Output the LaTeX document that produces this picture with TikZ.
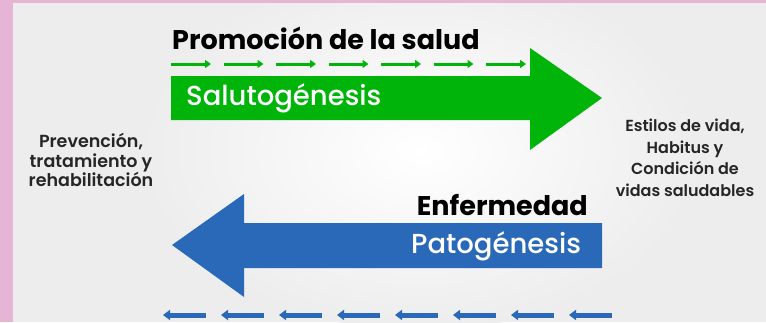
\documentclass[tikz,border=0pt]{standalone}
\usepackage{fontspec}
\setmainfont{Poppins}
\newfontfamily\popmed{Poppins Medium}
\newfontfamily\popsemi{Poppins SemiBold}
\usetikzlibrary{arrows.meta}
\definecolor{pinkbg}{HTML}{E6B4D4}
\definecolor{greybg}{HTML}{EDEDED}
\definecolor{arrgreen}{HTML}{00B40A}
\definecolor{arrblue}{HTML}{2A69B8}
\tikzset{
  sidetext/.style={align=center, font=\popsemi\fontsize{17.5}{19.5}\selectfont, text=black!85, inner sep=0pt},
  title/.style={font=\bfseries\fontsize{27}{30}\selectfont, text=black, inner sep=0pt},
  bodylabel/.style={font=\popmed\fontsize{27.5}{30}\selectfont, text=white, inner sep=0pt},
  gdash/.style={draw=arrgreen, line width=3pt, -{Triangle[length=6pt,width=8pt]}},
  bdash/.style={draw=arrblue, line width=5pt, -{Triangle[length=7pt,width=10pt]}},
}
\begin{document}
\begin{tikzpicture}[x=1pt,y=-1pt]
\useasboundingbox (0,0) rectangle (766,322);
% background
\fill[pinkbg] (0,0) rectangle (766,322);
\fill[greybg] (13,3) rectangle (766,322);
\begin{scope}
\clip (13,3) rectangle (766,322);
\shade[inner color=white, outer color=greybg] (420,150) ellipse (280 and 180);
\end{scope}
% green arrow
\fill[arrgreen] (171,76) -- (530,76) -- (530,48) -- (602,98) -- (530,150) -- (530,120) -- (171,120) -- cycle;
% blue arrow
\fill[arrblue] (602,223) -- (244,223) -- (244,194) -- (172,245) -- (244,297) -- (244,268) -- (602,268) -- cycle;
% green dashed arrows
\foreach \i in {0,...,6} {
  \coordinate (gs\i) at (171+52.5*\i,64);
  \coordinate (ge\i) at (211+52.5*\i,64);
  \draw[gdash] (gs\i) -- (ge\i);
}
% blue dashed arrows
\foreach \i in {0,...,7} {
  \coordinate (bs\i) at (206+58*\i,315);
  \coordinate (be\i) at (163+58*\i,315);
  \draw[bdash] (bs\i) -- (be\i);
}
% texts
\node[title, anchor=west] (promo) at (172,38) {Promoción de la salud};
\node[bodylabel, anchor=west] (salu) at (186,98) {Salutogénesis};
\node[title, anchor=east] (enf) at (588,205) {Enfermedad};
\node[bodylabel, anchor=west] (pato) at (411,246) {Patogénesis};
\node[sidetext] (left) at (91,160) {Prevención,\\tratamiento y\\rehabilitación};
\node[sidetext, font=\popsemi\fontsize{16}{21.5}\selectfont] (right) at (685,158) {Estilos de vida,\\Habitus y\\Condición de\\vidas saludables};
\end{tikzpicture}
\end{document}
